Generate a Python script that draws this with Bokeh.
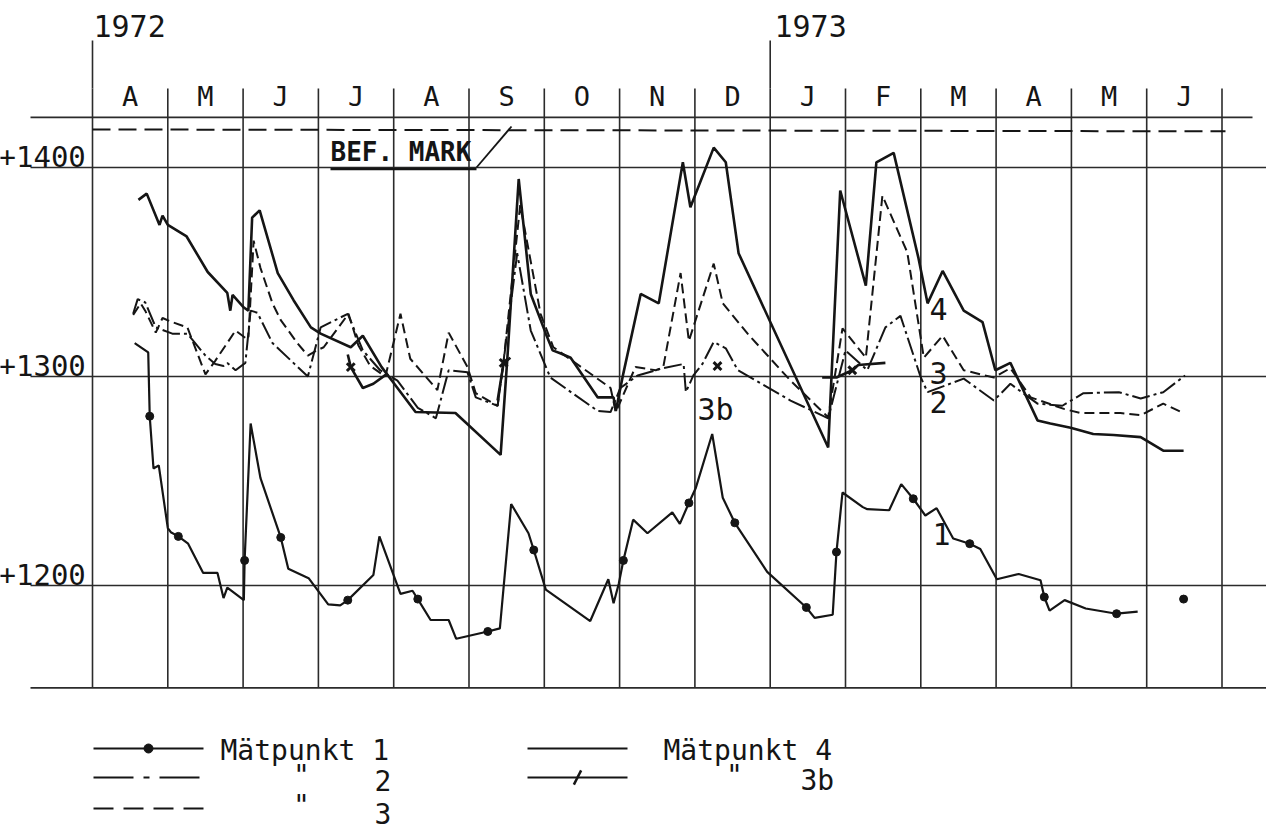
import math
from bokeh.plotting import figure
from bokeh.models import Range1d
from bokeh.core.properties import value
from bokeh.embed import file_html
from bokeh.resources import INLINE

nan = float("nan")

# ---------------- data (x = months since 1 April 1972, y = level) ----------------
month_labels = ["A", "M", "J", "J", "A", "S", "O", "N", "D", "J", "F", "M", "A", "M", "J"]
year_labels = ["1972", "1973"]
year_starts = [0, 9]
y_levels = [1400, 1300, 1200]
y_labels = ["+1400", "+1300", "+1200"]
bef_mark = 1418.2
frame_top = 1424
frame_bottom = 1151

# Mätpunkt 1
s1_x = [0.56, 0.74, 0.76, 0.81, 0.88, 1.00, 1.04, 1.14, 1.27, 1.47, 1.66, 1.74, 1.79, 2.01, 2.02, 2.10,
        2.23, 2.50, 2.60, 2.87, 3.13, 3.29, 3.39, 3.73, 3.81, 4.09, 4.25, 4.32, 4.49, 4.73, 4.83, 5.25,
        5.41, 5.56, 5.79, 5.86, 6.02, 6.61, 6.85, 6.92, 6.99, 7.05, 7.18, 7.37, 7.70, 7.80, 7.92, 8.01,
        8.23, 8.37, 8.53, 8.96, 9.48, 9.59, 9.83, 9.88, 9.96, 10.23, 10.29, 10.58, 10.74, 10.90, 11.06,
        11.21, 11.43, 11.65, 11.79, 12.01, 12.30, 12.59, 12.64, 12.71, 12.91, 13.19, 13.60, 13.88]
s1_y = [1316, 1311.5, 1281, 1256, 1257.5, 1227.5, 1225.5, 1223.5, 1220, 1206, 1206, 1194, 1199, 1193, 1212, 1277.5,
        1251.5, 1223, 1208, 1203.5, 1191, 1190.5, 1193, 1205, 1223.5, 1196, 1197.5, 1193.5, 1183.5, 1183.5, 1174.5, 1178,
        1179.5, 1239, 1225, 1217, 1198, 1183, 1203, 1191.5, 1201, 1212, 1231.5, 1225, 1235, 1229.5, 1239.5, 1246.5,
        1272.5, 1242, 1230, 1206.5, 1189.5, 1184.5, 1186, 1216, 1244.5, 1237.5, 1236.5, 1236, 1248.5, 1241.5, 1233.5,
        1237, 1222.5, 1220, 1217.5, 1203, 1205.5, 1202.5, 1194.5, 1188, 1193, 1189, 1186.5, 1187.5]
s1_dot_x = [0.76, 1.14, 2.02, 2.50, 3.39, 4.32, 5.25, 5.86, 7.05, 7.92, 8.53, 9.48, 9.88, 10.90, 11.65,
            12.64, 13.60, 14.49]
s1_dot_y = [1281, 1223.5, 1212, 1223, 1193, 1193.5, 1178, 1217, 1212, 1239.5, 1230, 1189.5, 1216, 1241.5, 1220,
            1194.5, 1186.5, 1193.5]

# Mätpunkt 2
s2_x = [0.54, 0.60, 0.70, 0.84, 1.06, 1.26, 1.50, 1.63, 1.74, 1.79, 1.90, 2.03, 2.10, 2.19, 2.39, 2.86,
        3.03, 3.39, 3.59, 3.82, 4.05, 4.32, 4.56, 4.73, 4.98, 5.09, 5.38, 5.46, 5.64, 5.82, 6.08, 6.71,
        6.88, 7.01, 7.24, 7.58, 7.85, 7.88, 7.98, 8.10, 8.25, 8.41, 8.57, 9.27, 9.77, 10.00, 10.29, 10.53,
        10.73, 11.00, 11.09, 11.57, 11.97, 12.19, 12.36, 12.55, 12.88, 13.16, 13.63, 13.92, 14.22, 14.51]
s2_y = [1330, 1337, 1335.5, 1323.5, 1320.5, 1320.5, 1310, 1306, 1305, 1306.5, 1303, 1306.5, 1331.5, 1330.5, 1316, 1300,
        1323.5, 1330, 1312.5, 1303, 1298, 1285, 1280, 1303, 1302, 1290, 1286, 1307.5, 1359, 1322, 1299.5, 1283.5,
        1283, 1294.5, 1300.5, 1304, 1306, 1292.5, 1300.5, 1306, 1316.5, 1313.5, 1303, 1288.5, 1280, 1312.5, 1303, 1323.5,
        1329, 1299.5, 1292.5, 1299, 1288.5, 1296.5, 1292, 1287, 1286, 1292, 1292.5, 1289.5, 1292.5, 1300.5]

# Mätpunkt 3
s3_x = [0.54, 0.64, 0.70, 0.84, 0.93, 1.06, 1.26, 1.50, 1.63, 1.90, 2.03, 2.07, 2.14, 2.23, 2.39, 2.50,
        2.72, 2.86, 2.98, 3.07, 3.40, 3.53, 3.69, 3.89, 4.09, 4.22, 4.58, 4.73, 4.98, 5.09, 5.38, 5.46,
        5.68, 5.95, 6.12, 6.88, 6.95, 7.21, 7.48, 7.58, 7.81, 7.92, 8.25, 8.37, 8.70, 9.27, 9.77, 9.96,
        10.27, 10.49, 10.82, 11.04, 11.29, 11.57, 11.97, 12.19, 12.46, 12.90, 13.12, 13.65, 13.92, 14.22, 14.49]
s3_y = [1329.5, 1335, 1331.5, 1321, 1328, 1326, 1323.5, 1301, 1307.5, 1322, 1318.5, 1318, 1365, 1352, 1335, 1327,
        1316, 1310, 1312.5, 1314, 1330, 1315, 1305, 1300, 1330, 1308.5, 1293.5, 1321, 1304.5, 1292, 1286, 1307.5,
        1382, 1330, 1314, 1294.5, 1283, 1304.5, 1303, 1304.5, 1349.5, 1317, 1354, 1335, 1320.5, 1298, 1280.5, 1323,
        1309, 1386.5, 1359.5, 1309, 1319.5, 1303, 1299.5, 1304, 1290, 1284.5, 1282.5, 1282.5, 1281.5, 1287, 1282.5]

# Mätpunkt 4
s4_x = [0.61, 0.72, 0.89, 0.93, 1.00, 1.25, 1.53, 1.79, 1.83, 1.86, 2.01, 2.07, 2.12, 2.22, 2.46, 2.67,
        2.90, 3.03, 3.43, 3.59, 3.84, 4.05, 4.29, 4.82, 5.42, 5.51, 5.66, 5.82, 6.02, 6.11, 6.22, 6.35,
        6.71, 6.92, 6.95, 7.05, 7.28, 7.52, 7.84, 7.94, 8.25, 8.41, 8.58, 9.77, 9.93, 10.27, 10.41, 10.64,
        10.97, 11.09, 11.29, 11.57, 11.82, 11.99, 12.19, 12.55, 12.72, 12.99, 13.29, 13.56, 13.92, 14.22, 14.49]
s4_y = [1384.5, 1387.5, 1372.5, 1377, 1372.5, 1367, 1350, 1340, 1331.5, 1339, 1333, 1331.5, 1376, 1379.5, 1349.5, 1336.5,
        1323.5, 1320.5, 1314, 1319.5, 1304.5, 1294.5, 1283, 1282.5, 1262.5, 1309, 1394.5, 1339.5, 1320.5, 1312.5, 1311, 1309,
        1290, 1290, 1283.5, 1301.5, 1339.5, 1335, 1402.5, 1381, 1409.5, 1402.5, 1359, 1266, 1389, 1343.5, 1402.5, 1407,
        1356.5, 1335, 1350.5, 1331.5, 1326, 1303, 1306.5, 1279, 1277.5, 1275.5, 1272.5, 1272, 1271, 1264.5, 1264.5]

# Mätpunkt 3b (short records)
s3b_x = [3.39, 3.43, 3.59, 3.73, 3.92, nan, 5.38, 5.46, 5.55, nan, 9.69, 9.88, 10.09, 10.17, 10.53]
s3b_y = [1310.5, 1304.5, 1294.5, 1296.5, 1301.5, nan, 1288.5, 1306.5, 1309, nan, 1299.5, 1299.5, 1303, 1305.5, 1306.5]
s3b_mark_x = [3.43, 5.46, 8.30, 10.09]
s3b_mark_y = [1304.5, 1306.5, 1305, 1303]

series_tags = ["4", "3", "2", "1", "3b"]
legend_names = ["Mätpunkt 1", "Mätpunkt 4"]

for a, b in [(s1_x, s1_y), (s2_x, s2_y), (s3_x, s3_y), (s4_x, s4_y), (s3b_x, s3b_y)]:
    assert len(a) == len(b)

# ---------------- page geometry ----------------
W, H = 1266, 834
X0, MW = 92.0, 75.3     # px of month 0, px per month
Y0, YS = 167.0, 2.09    # px of +1400, px per unit
TSHIFT = 12             # text baseline correction (px)


def X(px):
    return (px - X0) / MW


def Y(py):
    return 1400 - (py - Y0) / YS


def TYb(py):
    # baseline position for a text whose baseline is wanted at pixel row py
    return Y(py - TSHIFT)


INK = "#151515"
GRID = "#2b2b2b"
FONT = value("DejaVu Sans Mono")

p = figure(width=W, height=H, x_range=Range1d(X(0), X(W)), y_range=Range1d(Y(H), Y(0)),
           output_backend="svg", toolbar_location=None, x_axis_type=None, y_axis_type=None,
           min_border=0)
p.outline_line_color = None
p.background_fill_color = "white"
p.border_fill_color = "white"

# ---- grid ----
bounds = list(range(len(month_labels) + 1))
p.segment(x0=bounds, y0=[Y(88)] * len(bounds), x1=bounds, y1=[frame_bottom] * len(bounds),
          line_color=GRID, line_width=1.6)
p.segment(x0=year_starts, y0=[Y(40)] * 2, x1=year_starts, y1=[Y(88)] * 2, line_color=GRID, line_width=1.6)
hl = y_levels + [frame_bottom]
p.segment(x0=[X(30)] * len(hl), y0=hl, x1=[X(W)] * len(hl), y1=hl, line_color=GRID, line_width=1.6)
p.segment(x0=[X(30)], y0=[frame_top], x1=[X(1252)], y1=[frame_top], line_color=GRID, line_width=1.8)

# reference mark line
p.line([0, X(1225)], [bef_mark, bef_mark - 0.9], line_color=INK, line_width=2, line_dash="18 8")
p.text(x=[X(330)], y=[TYb(163)], text=["BEF. MARK"], text_font=FONT, text_font_size="26px",
       text_color=INK, text_baseline="alphabetic", text_align="left", text_font_style="bold")
p.line([X(330), X(476)], [Y(168.5)] * 2, line_color=INK, line_width=2.5)
p.line([X(476), X(511)], [Y(167), Y(126)], line_color=INK, line_width=1.8)

# ---- labels ----
p.text(x=[m + 0.5 for m in range(len(month_labels))], y=[TYb(108)] * len(month_labels), text=month_labels,
       text_font=FONT, text_font_size="27px", text_color=INK, text_align="center",
       text_baseline="alphabetic")
p.text(x=[X(93), X(774)], y=[TYb(37)] * 2, text=year_labels, text_font=FONT, text_font_size="30px",
       text_color=INK, text_align="left", text_baseline="alphabetic")
p.text(x=[X(-2)] * 3, y=[TYb(Y0 + (1400 - v) * YS + 1) for v in y_levels], text=y_labels, text_font=FONT,
       text_font_size="29px", text_color=INK, text_align="left", text_baseline="alphabetic")

# ---- series ----
p.line(s4_x, s4_y, line_color=INK, line_width=2.6)
p.line(s3_x, s3_y, line_color=INK, line_width=2.0, line_dash="10 5")
p.line(s2_x, s2_y, line_color=INK, line_width=2.0, line_dash="18 4 3 4")
p.line(s1_x, s1_y, line_color=INK, line_width=2.2)
p.scatter(s1_dot_x, s1_dot_y, size=8, color=INK)
p.line(s3b_x, s3b_y, line_color=INK, line_width=2.6)
p.scatter(s3b_mark_x, s3b_mark_y, marker="x", size=11, line_color=INK, line_width=3)

# series tags on chart
p.text(x=[X(929), X(929), X(929), X(932), X(697)],
       y=[TYb(320), TYb(384), TYb(413), TYb(545), TYb(421)], text=series_tags, text_font=FONT,
       text_font_size="30px", text_color=INK, text_align="left", text_baseline="alphabetic")

# ---- legend (hand-drawn style) ----
p.line([X(93), X(203)], [Y(748)] * 2, line_color=INK, line_width=2.2)
p.scatter([X(148)], [Y(748)], size=9, color=INK)
p.line([X(93), X(203)], [Y(777)] * 2, line_color=INK, line_width=2.2, line_dash="40 10 6 10")
p.line([X(93), X(203)], [Y(808)] * 2, line_color=INK, line_width=2.2, line_dash="20 10")
p.line([X(527), X(627)], [Y(748)] * 2, line_color=INK, line_width=2.2)
p.line([X(527), X(627)], [Y(777)] * 2, line_color=INK, line_width=2.2)
p.scatter([X(577)], [Y(777)], marker="dash", angle=1.1, size=16, line_color=INK, line_width=2.5)

p.text(x=[X(220), X(663)], y=[TYb(762)] * 2, text=legend_names, text_font=FONT, text_font_size="28px",
       text_color=INK, text_align="left", text_baseline="alphabetic")
p.text(x=[X(301), X(301), X(734)], y=[TYb(787), TYb(817), TYb(787)], text=['"', '"', '"'], text_font=FONT,
       text_font_size="28px", text_color=INK, text_align="center", text_baseline="alphabetic")
p.text(x=[X(374), X(374), X(800)], y=[TYb(792), TYb(825), TYb(792)], text=["2", "3", "3b"], text_font=FONT,
       text_font_size="28px", text_color=INK, text_align="left", text_baseline="alphabetic")

open("out.html", "w").write(file_html(p, INLINE))
